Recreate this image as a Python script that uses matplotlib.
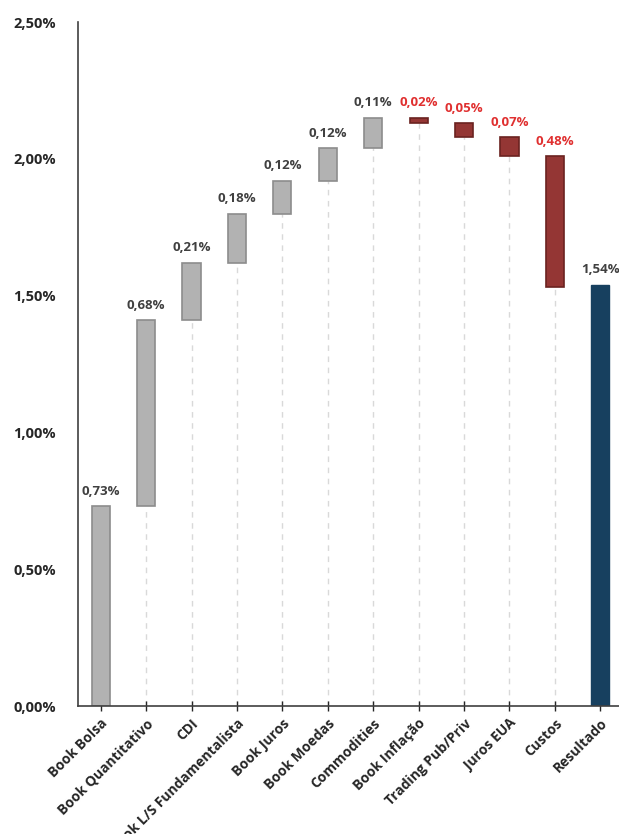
import matplotlib
matplotlib.use("Agg")
import matplotlib.pyplot as plt
import numpy as np

categories = ["Book Bolsa", "Book Quantitativo", "CDI", "Book L/S Fundamentalista",
              "Book Juros", "Book Moedas", "Commodities", "Book Inflação",
              "Trading Pub/Priv", "Juros EUA", "Custos", "Resultado"]
deltas = [0.73, 0.68, 0.21, 0.18, 0.12, 0.12, 0.11, -0.02, -0.05, -0.07, -0.48]
result = 1.54
yticks = [0.0, 0.5, 1.0, 1.5, 2.0, 2.5]

plt.rcParams['font.family'] = ['Open Sans', 'DejaVu Sans']

fig = plt.figure(figsize=(6.19, 8.34), dpi=100)
ax = fig.add_axes([78/619, 1-706/834, 545/619, (706-22)/834])

gray_f, gray_e = "#b2b2b2", "#8c8c8c"
red_f, red_e = "#943634", "#6b2220"
blue_f = "#17405f"
w = 0.4

cum = 0.0
x = np.arange(len(categories))
for i, d in enumerate(deltas):
    start = cum
    end = cum + d
    lo, hi = min(start, end), max(start, end)
    if d >= 0:
        fc, ec, tc = gray_f, gray_e, "#404040"
    else:
        fc, ec, tc = red_f, red_e, "#e03030"
    if lo > 0:
        ax.plot([i, i], [0, lo], ls=(0, (4, 4)), color="#d9d9d9", lw=1, zorder=1)
    ax.bar(i, hi - lo, bottom=lo, width=w, color=fc, edgecolor=ec, linewidth=1.2, zorder=2)
    label = f"{abs(d):.2f}%".replace(".", ",")
    ax.annotate(label, (i, hi), xytext=(0, 6), textcoords="offset points",
                ha="center", va="bottom", fontsize=9.5, fontweight="bold", color=tc)
    cum = end

i = len(deltas)
ax.bar(i, result, width=w, color=blue_f, edgecolor=blue_f, linewidth=1, zorder=2)
ax.annotate(f"{result:.2f}%".replace(".", ","), (i, result), xytext=(0, 6),
            textcoords="offset points", ha="center", va="bottom",
            fontsize=9.5, fontweight="bold", color="#404040")

ax.set_xlim(-0.5, len(categories) - 0.5)
ax.set_ylim(0, 2.5)
ax.set_yticks(yticks)
ax.set_yticklabels([f"{v:.2f}%".replace(".", ",") for v in yticks],
                   fontsize=10.5, fontweight="bold", color="#262626")
ax.tick_params(axis="y", length=0, pad=16)
ax.set_xticks(x)
ax.set_xticklabels(categories, rotation=45, ha="right", rotation_mode="anchor",
                   fontsize=10, fontweight="bold", color="#262626")
ax.tick_params(axis="x", direction="inout", length=7, width=1, color="#262626", pad=4)
for s in ["top", "right"]:
    ax.spines[s].set_visible(False)
for s in ["left", "bottom"]:
    ax.spines[s].set_color("#404040")
    ax.spines[s].set_linewidth(1.2)

fig.savefig("out.png", dpi=100)
